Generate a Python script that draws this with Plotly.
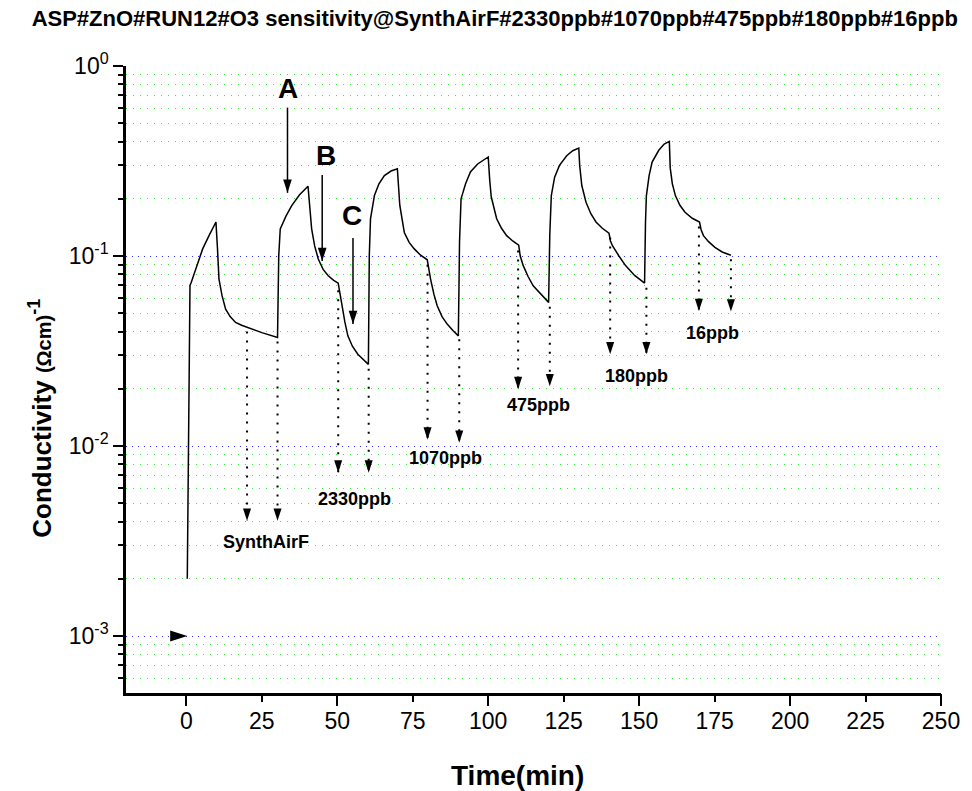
import numpy as np
import plotly.graph_objects as go

# ---------------- data ----------------
time_min = [0.3, 1.2, 1.6, 3.5, 5.4, 7.5, 9.8,
            10.3, 10.8, 11.8, 13.0, 14.5, 16.3, 18.3, 20.3, 25.0, 30.2,
            30.6, 31.1, 33.0, 34.9, 37.5, 40.3,
            40.8, 41.5, 42.5, 43.7, 45.3, 47.0, 48.8, 50.3,
            51.0, 51.5, 52.5, 53.5, 55.0, 56.8, 58.7, 60.3,
            60.6, 61.0, 62.3, 63.8, 65.6, 67.8, 69.9,
            70.3, 70.7, 72.2, 73.8, 75.5, 77.6, 79.8,
            80.4, 80.9, 82.0, 83.1, 84.7, 86.4, 88.3, 90.1,
            90.5, 91.0, 92.5, 94.1, 96.5, 98.5, 100.0,
            100.5, 101.0, 102.8, 104.4, 106.1, 108.1, 110.1,
            110.6, 111.6, 113.2, 114.9, 117.5, 120.0,
            120.4, 120.9, 122.0, 123.6, 126.0, 128.0, 130.0,
            130.3, 131.0, 132.4, 134.0, 135.7, 137.8, 140.0,
            140.5, 141.2, 143.3, 145.5, 148.5, 151.8,
            152.1, 152.4, 153.3, 154.3, 156.5, 158.3, 160.0,
            160.3, 161.0, 162.0, 163.5, 165.2, 167.6, 170.0,
            170.5, 171.3, 173.0, 175.1, 177.5, 180.4]
conductivity = [0.002, 0.070, 0.0726, 0.090, 0.109, 0.128, 0.151,
                0.110, 0.0756, 0.062, 0.0525, 0.048, 0.0447, 0.0432, 0.042, 0.0395, 0.0373,
                0.100, 0.139, 0.162, 0.184, 0.210, 0.233,
                0.180, 0.139, 0.113, 0.0964, 0.085, 0.0787, 0.0745, 0.072,
                0.062, 0.055, 0.045, 0.038, 0.0335, 0.0304, 0.0283, 0.0269,
                0.100, 0.157, 0.208, 0.240, 0.265, 0.280, 0.288,
                0.230, 0.185, 0.133, 0.118, 0.109, 0.101, 0.0955,
                0.083, 0.0756, 0.063, 0.0547, 0.048, 0.0438, 0.0405, 0.038,
                0.120, 0.200, 0.240, 0.277, 0.305, 0.322, 0.332,
                0.250, 0.205, 0.157, 0.140, 0.128, 0.120, 0.114,
                0.100, 0.089, 0.078, 0.0697, 0.063, 0.057,
                0.130, 0.208, 0.260, 0.300, 0.337, 0.358, 0.370,
                0.300, 0.235, 0.192, 0.167, 0.151, 0.140, 0.132,
                0.120, 0.113, 0.100, 0.089, 0.079, 0.072,
                0.150, 0.208, 0.265, 0.312, 0.360, 0.388, 0.401,
                0.290, 0.240, 0.208, 0.185, 0.170, 0.158, 0.151,
                0.138, 0.128, 0.119, 0.111, 0.105, 0.101]

# dotted arrows marking gas switching points
arrow_t = [20.1, 30.2, 50.3, 60.4, 79.9, 90.4, 109.9, 120.4, 140.4, 152.4, 169.8, 180.4]
arrow_start = [0.040, 0.0355, 0.066, 0.0255, 0.090, 0.0365, 0.107, 0.054, 0.125, 0.068, 0.143, 0.096]
arrow_tip = [0.00404, 0.00404, 0.00724, 0.00724, 0.0108, 0.0104, 0.0199, 0.0206, 0.0304, 0.0304, 0.0513, 0.0510]

gas_labels = ["SynthAirF", "2330ppb", "1070ppb", "475ppb", "180ppb", "16ppb"]
gas_label_t = [26.3, 55.8, 85.7, 116.6, 149.1, 174.4]
gas_label_c = [0.00313, 0.00528, 0.0086, 0.01637, 0.0233, 0.0393]

point_labels = ["A", "B", "C"]
point_label_t = [33.6, 46.3, 54.9]
point_label_c = [0.76, 0.337, 0.1626]
point_arrow_t = [33.5, 45.0, 55.2]
point_arrow_start = [0.604, 0.267, 0.1245]
point_arrow_tip = [0.215, 0.094, 0.0438]

start_marker_t = [0.3]
start_marker_c = [0.001]

x_ticks = [0, 25, 50, 75, 100, 125, 150, 175, 200, 225, 250]
x_major_ticks = [0, 50, 100, 150, 200, 250]
y_ticks = [0.001, 0.01, 0.1, 1]
y_ticktext = ["10<sup>-3</sup>", "10<sup>-2</sup>", "10<sup>-1</sup>", "10<sup>0</sup>"]
y_minor = [m * 10.0 ** k for k in (-4, -3, -2, -1) for m in range(2, 10)]

title = "ASP#ZnO#RUN12#O3 sensitivity@SynthAirF#2330ppb#1070ppb#475ppb#180ppb#16ppb"

FONT = "Arial, 'Liberation Sans', sans-serif"

fig = go.Figure()

fig.add_trace(go.Scatter(x=time_min, y=conductivity, mode="lines",
                         line=dict(color="black", width=1.5), showlegend=False,
                         hoverinfo="skip"))

# dotted stems
sx, sy = [], []
for t, s, e in zip(arrow_t, arrow_start, arrow_tip):
    sx += [t, t, None]
    sy += [s, e, None]
fig.add_trace(go.Scatter(x=sx, y=sy, mode="lines",
                         line=dict(color="black", width=2, dash="2px,7px"),
                         showlegend=False, hoverinfo="skip"))
fig.add_trace(go.Scatter(x=arrow_t, y=arrow_tip, mode="markers",
                         marker=dict(symbol="arrow", angle=180, size=13, color="black"),
                         showlegend=False, hoverinfo="skip"))

# solid A/B/C arrows
px_, py_ = [], []
for t, s, e in zip(point_arrow_t, point_arrow_start, point_arrow_tip):
    px_ += [t, t, None]
    py_ += [s, e, None]
fig.add_trace(go.Scatter(x=px_, y=py_, mode="lines",
                         line=dict(color="black", width=1.5),
                         showlegend=False, hoverinfo="skip"))
fig.add_trace(go.Scatter(x=point_arrow_t, y=point_arrow_tip, mode="markers",
                         marker=dict(symbol="arrow", angle=180, size=14, color="black"),
                         showlegend=False, hoverinfo="skip"))

# start marker
fig.add_trace(go.Scatter(x=start_marker_t, y=start_marker_c, mode="markers",
                         marker=dict(symbol="arrow", angle=90, size=18, color="black"),
                         showlegend=False, hoverinfo="skip"))

# helper trace for overlay axis with long ticks
fig.add_trace(go.Scatter(x=[None], y=[None], xaxis="x2", showlegend=False, hoverinfo="skip"))

annotations = []
for txt, t, c in zip(gas_labels, gas_label_t, gas_label_c):
    annotations.append(dict(x=t, y=np.log10(c), xref="x", yref="y", text="<b>%s</b>" % txt,
                            showarrow=False, font=dict(family=FONT, size=18, color="black"),
                            xanchor="center", yanchor="middle"))
for txt, t, c in zip(point_labels, point_label_t, point_label_c):
    annotations.append(dict(x=t, y=np.log10(c), xref="x", yref="y", text="<b>%s</b>" % txt,
                            showarrow=False, font=dict(family=FONT, size=28, color="black"),
                            xanchor="center", yanchor="middle"))

annotations.append(dict(x=-0.1046, y=0.4386, xref="paper", yref="paper", textangle=-90,
                        text="<b>Conductivity <span style='font-size:20px'>(Ωcm)</span>"
                             "<sup>-1</sup></b>",
                        showarrow=False, font=dict(family=FONT, size=26, color="black"),
                        xanchor="center", yanchor="middle"))
annotations.append(dict(x=0.4805, y=-0.1308, xref="paper", yref="paper",
                        text="<b>Time(min)</b>", showarrow=False,
                        font=dict(family=FONT, size=28, color="black"),
                        xanchor="center", yanchor="middle"))

fig.update_layout(
    width=972, height=791,
    margin=dict(l=126, r=24, t=66, b=98),
    paper_bgcolor="white", plot_bgcolor="white",
    title=dict(text="<b>%s</b>" % title, x=0.509, xref="container", y=0.977,
               yref="container", xanchor="center", yanchor="middle",
               font=dict(family=FONT, size=22, color="black")),
    font=dict(family=FONT, color="black"),
    annotations=annotations,
    xaxis=dict(range=[-20, 250], showline=True, linecolor="black", linewidth=2.5,
               ticks="outside", tickvals=x_ticks, ticklen=6, tickwidth=2, tickcolor="black",
               showgrid=False, zeroline=False, tickfont=dict(family=FONT, size=23)),
    xaxis2=dict(range=[-20, 250], overlaying="x", anchor="y", side="bottom",
                showline=False, ticks="outside", tickvals=x_major_ticks, ticklen=12,
                tickwidth=2, tickcolor="black", showticklabels=False, showgrid=False,
                zeroline=False),
    yaxis=dict(type="log", range=[-3.3, 0.0], showline=True, linecolor="black",
               linewidth=2.5, ticks="outside", tickvals=y_ticks, ticktext=y_ticktext,
               ticklen=10, tickwidth=2, tickcolor="black",
               showgrid=True, gridcolor="#3333ff", gridwidth=1, griddash="1px,5px",
               zeroline=False, tickfont=dict(family=FONT, size=23),
               minor=dict(tickvals=y_minor, ticks="outside", ticklen=5, tickwidth=2,
                          tickcolor="black", showgrid=True, gridcolor="#33ee33",
                          gridwidth=1, griddash="1px,6px")),
)

fig.write_html("out.html")
